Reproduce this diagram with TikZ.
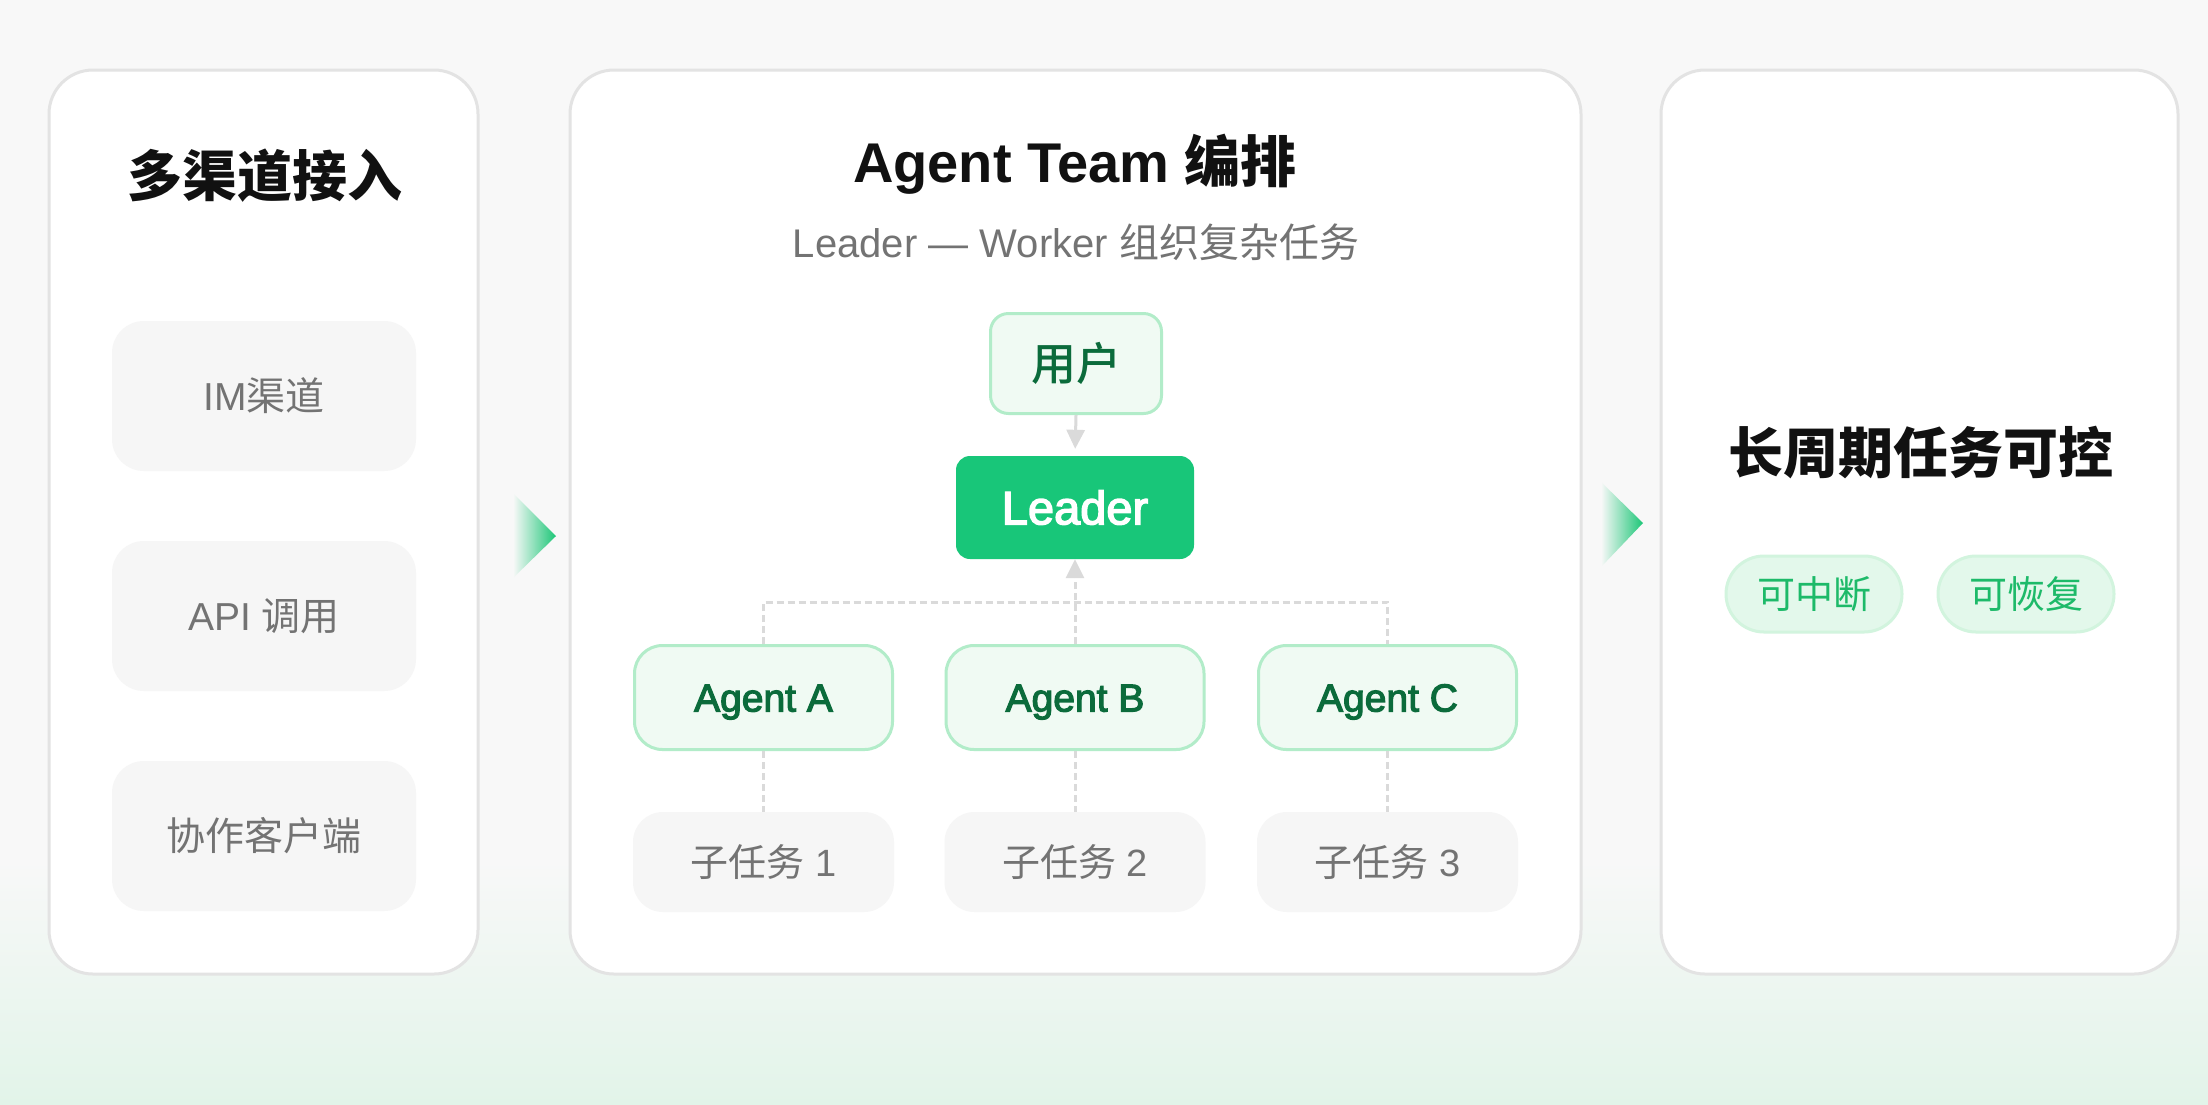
\documentclass[tikz,border=0pt]{standalone}
\usepackage{fontspec}
\setmainfont{Liberation Sans}
\newfontfamily\cjk{Noto Sans CJK SC}
\newfontfamily\cjkm{Noto Sans CJK SC Medium}
\newfontfamily\latm{Liberation Sans}[FakeBold=3]
\usetikzlibrary{arrows.meta}
\definecolor{bgc}{HTML}{F8F8F8}
\definecolor{bgg}{HTML}{E2F4E9}
\definecolor{pborder}{HTML}{E3E3E3}
\definecolor{graybox}{HTML}{F6F6F6}
\definecolor{graytxt}{HTML}{737373}
\definecolor{lgreen}{HTML}{F0FAF3}
\definecolor{lgborder}{HTML}{B2ECC9}
\definecolor{dgreen}{HTML}{0B6B3B}
\definecolor{leadg}{HTML}{18C679}
\definecolor{pillfill}{HTML}{E3F8EB}
\definecolor{pillborder}{HTML}{D2F4DE}
\definecolor{pilltxt}{HTML}{1DBA69}
\definecolor{arrowg}{HTML}{1CC677}
\definecolor{lineg}{HTML}{DADADA}
\definecolor{titc}{HTML}{111111}
\begin{document}
\begin{tikzpicture}[x=1pt,y=-1pt,
  panel/.style={draw=pborder, line width=3pt, fill=white, rounded corners=44pt, inner sep=0pt},
  chanbox/.style={fill=graybox, rounded corners=32pt, minimum width=304pt, minimum height=150pt, inner sep=0pt, text=graytxt, font=\fontsize{39}{44}\selectfont},
  agentbox/.style={draw=lgborder, line width=3pt, fill=lgreen, rounded corners=28pt, minimum width=258pt, minimum height=104pt, inner sep=0pt, text=dgreen, font=\latm\fontsize{39}{44}\selectfont, text height=28pt, text depth=0pt},
  subbox/.style={fill=graybox, rounded corners=30pt, minimum width=261pt, minimum height=100pt, inner sep=0pt, text=graytxt, font=\fontsize{38}{44}\selectfont},
  pill/.style={draw=pillborder, line width=3pt, fill=pillfill, rounded corners=38pt, minimum width=176pt, minimum height=76pt, inner sep=0pt, text=pilltxt, font=\cjk\fontsize{38}{44}\selectfont},
  dashline/.style={draw=lineg, line width=3pt, dash pattern=on 7pt off 4pt},
  tip/.style={-{Triangle[width=18pt,length=19pt]}}
]
\useasboundingbox (0,0) rectangle (2208,1104);
\fill[bgc] (0,0) rectangle (2208,1104);
\shade[top color=bgc, bottom color=bgg] (0,860) rectangle (2208,1104);

% panels
\node[panel, minimum width=429pt, minimum height=904pt] (p1) at (263.5,522) {};
\node[panel, minimum width=1011pt, minimum height=904pt] (p2) at (1075.5,522) {};
\node[panel, minimum width=517pt, minimum height=904pt] (p3) at (1919.5,522) {};

% panel arrows
\shade[left color=bgc, right color=arrowg] (513,493) -- (556,536) -- (513,578) -- cycle;
\shade[left color=bgc, right color=arrowg] (1601,482) -- (1643,523) -- (1601,567) -- cycle;

% left panel
\node[text=titc, font=\bfseries\cjk\fontsize{55}{60}\selectfont] (lt) at (265,176) {多渠道接入};
\node[chanbox] (c1) at (264,396) {IM{\cjk 渠道}};
\node[chanbox] (c2) at (264,616) {API {\cjk 调用}};
\node[chanbox] (c3) at (264,836) {\cjk 协作客户端};

% middle panel
\node[anchor=base, text=titc, font=\bfseries\fontsize{56}{60}\selectfont] (mt) at (1075,182) {Agent Team {\cjk 编排}};
\node[anchor=base, text=graytxt, font=\fontsize{40}{44}\selectfont] (ms) at (1076,257) {Leader — Worker {\cjk 组织复杂任务}};

\node[draw=lgborder, line width=3pt, fill=lgreen, rounded corners=18pt, minimum width=171pt, minimum height=100pt, inner sep=0pt, text=dgreen, font=\cjkm\fontsize{45}{50}\selectfont] (user) at (1076,363.5) {用户};
\node[fill=leadg, rounded corners=14pt, minimum width=238pt, minimum height=103pt, inner sep=0pt, text=white, font=\latm\fontsize{47}{50}\selectfont] (leader) at (1075,507.5) {Leader};

\node[agentbox] (agA) at (763.5,697.5) {Agent A};
\node[agentbox] (agB) at (1075,697.5) {Agent B};
\node[agentbox] (agC) at (1387.5,697.5) {Agent C};

\node[subbox] (s1) at (763.5,862) {{\cjk 子任务} 1};
\node[subbox] (s2) at (1075,862) {{\cjk 子任务} 2};
\node[subbox] (s3) at (1387.5,862) {{\cjk 子任务} 3};

\draw[draw=lineg, line width=3pt, tip, shorten >=7pt] (user.south) -- (leader.north);
\draw[dashline] (agA.north) -- ++(0,-42) -| (agC.north);
\draw[dashline, tip] (agB.north) -- (leader.south);
\draw[dashline] (agA.south) -- (s1.north);
\draw[dashline] (agB.south) -- (s2.north);
\draw[dashline] (agC.south) -- (s3.north);

% right panel
\node[text=titc, font=\bfseries\cjk\fontsize{55}{60}\selectfont] (rt) at (1921,453) {长周期任务可控};
\node[pill] (q1) at (1814,594) {可中断};
\node[pill] (q2) at (2026,594) {可恢复};
\end{tikzpicture}
\end{document}
